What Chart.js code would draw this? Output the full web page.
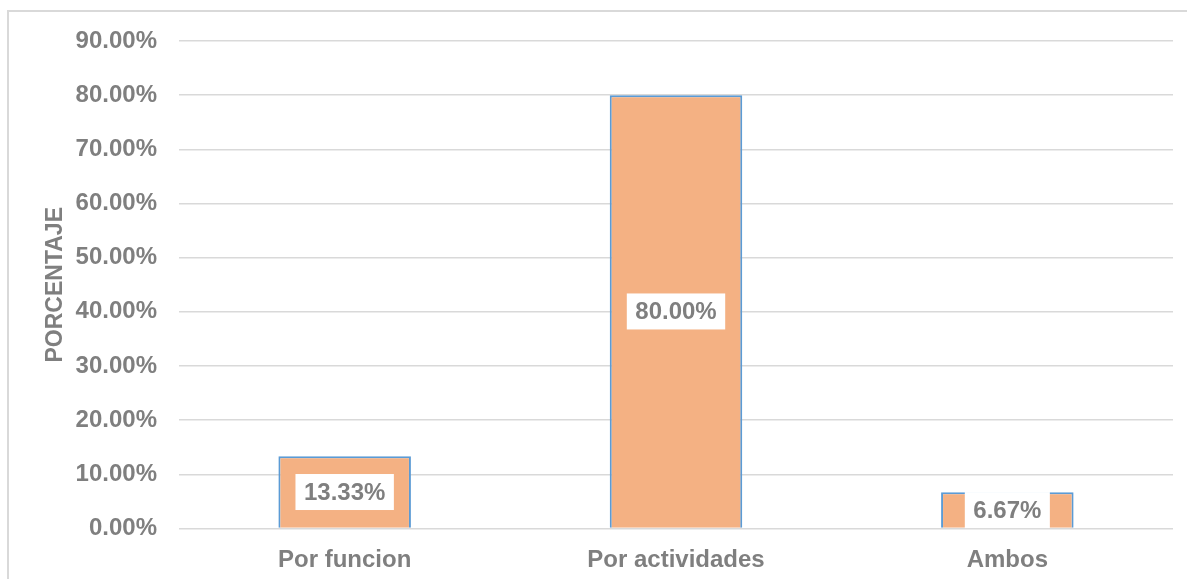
<!DOCTYPE html>
<html>
<head>
<meta charset="utf-8">
<script src="https://cdn.jsdelivr.net/npm/chart.js@4.4.1/dist/chart.umd.min.js"></script>
<style>
  html, body { margin: 0; padding: 0; background: #fff; overflow: hidden; }
  #wrap { position: relative; width: 1187px; height: 579px; }
  #frame {
    position: absolute; left: 7px; top: 10px; width: 1200px; height: 600px;
    border-left: 2px solid #d9d9d9; border-top: 2px solid #d9d9d9;
    box-sizing: border-box;
  }
  canvas { position: absolute; left: 0; top: 0; }
</style>
</head>
<body>
<div id="wrap">
  <div id="frame"></div>
  <canvas id="chart" width="1187" height="579"></canvas>
</div>
<script>
// === DONNÉES ===
const CATEGORIES = ["Por funcion", "Por actividades", "Ambos"];
const PORCENTAJES = [13.33, 80.00, 6.67];
const Y_MIN = 0;
const Y_MAX = 90;
const Y_STEP = 10;
const TITRE_Y = "PORCENTAJE";

const GRIS = '#7f7f7f';
const POLICE = '"Liberation Sans", Arial, sans-serif';

// Étiquettes blanches au centre des barres
const etiquettesPlugin = {
    id: 'etiquettes',
    afterDatasetsDraw(chart) {
        const ctx = chart.ctx;
        const meta = chart.getDatasetMeta(0);
        ctx.save();
        ctx.font = 'bold 24px ' + POLICE;
        ctx.textAlign = 'center';
        ctx.textBaseline = 'middle';
        meta.data.forEach((bar, i) => {
            const texte = PORCENTAJES[i].toFixed(2) + '%';
            const cx = bar.x;
            const cy = (bar.y + bar.base) / 2;
            const w = ctx.measureText(texte).width + 17;
            const h = 36;
            ctx.fillStyle = '#ffffff';
            ctx.fillRect(cx - w / 2, cy - h / 2, w, h);
            ctx.fillStyle = GRIS;
            ctx.fillText(texte, cx, cy + 1);
        });
        ctx.restore();
    }
};

const ctx = document.getElementById("chart").getContext("2d");
new Chart(ctx, {
    type: "bar",
    data: {
        labels: CATEGORIES,
        datasets: [{
            data: PORCENTAJES,
            backgroundColor: '#f4b183',
            borderColor: '#5b9bd5',
            borderWidth: 2,
            categoryPercentage: 1,
            barPercentage: 0.4,
        }],
    },
    options: {
        responsive: false,
        animation: false,
        layout: { padding: { left: 0, top: 41, right: 14, bottom: 0 } },
        plugins: {
            legend: { display: false },
            tooltip: { enabled: false },
        },
        scales: {
            x: {
                grid: { display: false },
                border: { display: false },
                ticks: {
                    color: GRIS,
                    padding: 9,
                    font: { family: POLICE, size: 24, weight: 'bold' },
                },
                afterFit(scale) { scale.height = 50.5; },
            },
            y: {
                min: Y_MIN,
                max: Y_MAX,
                border: { display: false },
                grid: { color: '#d9d9d9', lineWidth: 1.5, drawTicks: false },
                ticks: {
                    stepSize: Y_STEP,
                    color: GRIS,
                    padding: 22,
                    font: { family: POLICE, size: 24, weight: 'bold' },
                    callback: (v) => v.toFixed(2) + '%',
                },
                title: {
                    display: true,
                    text: TITRE_Y,
                    color: GRIS,
                    padding: { top: 42, bottom: 0 },
                    font: { family: POLICE, size: 23, weight: 'bold' },
                },
                afterFit(scale) { scale.width = 179; },
            },
        },
    },
    plugins: [etiquettesPlugin],
});
</script>
</body>
</html>
